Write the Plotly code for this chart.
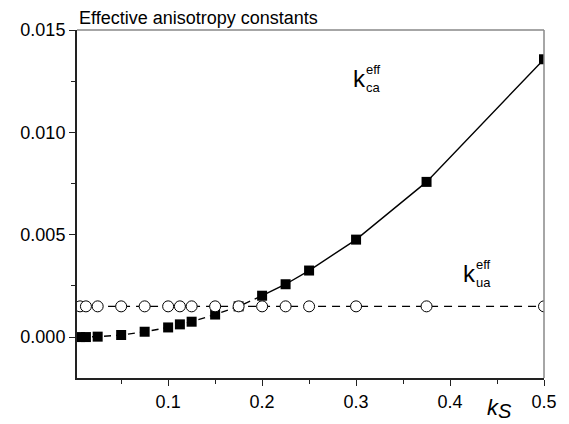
import plotly.graph_objects as go

# k_S values (same for both series)
ks = [0.00625, 0.0125, 0.025, 0.05, 0.075, 0.1, 0.1125, 0.125, 0.15,
      0.175, 0.2, 0.225, 0.25, 0.3, 0.375, 0.5]
k_ca = [0.0, 0.0, 0.00002, 0.0001, 0.00026, 0.00047, 0.00062, 0.00075, 0.0011,
        0.0015, 0.00202, 0.00258, 0.00325, 0.00476, 0.00758, 0.01357]
k_ua = [0.0015] * len(ks)

yticks = [0.0, 0.005, 0.010, 0.015]
xticks = [0.1, 0.2, 0.3, 0.4, 0.5]

FONT = "Liberation Sans, Arial, sans-serif"
split = ks.index(0.2)

fig = go.Figure()
# dashed part of k_ca line
fig.add_trace(go.Scatter(x=ks[:split + 1], y=k_ca[:split + 1], mode="lines",
                         line=dict(color="black", width=1.4, dash="7px,5px"),
                         showlegend=False, hoverinfo="skip"))
# solid part of k_ca line
fig.add_trace(go.Scatter(x=ks[split:], y=k_ca[split:], mode="lines",
                         line=dict(color="black", width=1.4),
                         showlegend=False, hoverinfo="skip"))
fig.add_trace(go.Scatter(x=ks, y=k_ca, mode="markers", name="k_ca",
                         marker=dict(symbol="square", size=10, color="black",
                                     line=dict(width=0)),
                         showlegend=False))
fig.add_trace(go.Scatter(x=ks, y=k_ua, mode="lines+markers", name="k_ua",
                         line=dict(color="black", width=1.4, dash="8px,6px"),
                         marker=dict(symbol="circle", size=11, color="white",
                                     line=dict(color="black", width=1)),
                         showlegend=False))

axis_common = dict(showgrid=False, zeroline=False, ticks="outside",
                   ticklen=6, tickwidth=1.2, tickcolor="#222",
                   showline=True, linecolor="#222", linewidth=2,
                   tickfont=dict(family=FONT, size=18, color="black"))

fig.update_xaxes(range=[0.003, 0.5], tickvals=xticks, ticktext=[f"{v:.1f}" for v in xticks],
                 minor=dict(tickvals=[0.05, 0.15, 0.25, 0.35, 0.45], ticks="outside",
                            ticklen=4, tickcolor="#222"),
                 **axis_common)
fig.update_yaxes(range=[-0.002, 0.015], tickvals=yticks, ticktext=[f"{v:.3f}" for v in yticks],
                 minor=dict(tickvals=[0.0025, 0.0075, 0.0125], ticks="outside",
                            ticklen=4, tickcolor="#222"),
                 **axis_common)

# gray top and right frame lines
fig.add_shape(type="line", xref="paper", yref="paper", x0=0, x1=1, y0=1, y1=1,
              line=dict(color="#888", width=1.5))
fig.add_shape(type="line", xref="paper", yref="paper", x0=1, x1=1, y0=0, y1=1,
              line=dict(color="#888", width=1.5))

ann = []
ann.append(dict(text="Effective anisotropy constants", xref="paper", yref="paper",
                x=0, y=1, xanchor="left", yanchor="bottom", showarrow=False, yshift=0,
                font=dict(family=FONT, size=18, color="black")))
# k_ca^eff label
ann.append(dict(text="k", x=0.304, y=0.01264, showarrow=False,
                font=dict(family=FONT, size=24, color="black")))
ann.append(dict(text="eff", x=0.304, y=0.01264, showarrow=False, xanchor="left",
                xshift=4, yshift=9, font=dict(family=FONT, size=13, color="black")))
ann.append(dict(text="ca", x=0.304, y=0.01264, showarrow=False, xanchor="left",
                xshift=4, yshift=-9, font=dict(family=FONT, size=13, color="black")))
# k_ua^eff label
ann.append(dict(text="k", x=0.421, y=0.00312, showarrow=False,
                font=dict(family=FONT, size=24, color="black")))
ann.append(dict(text="eff", x=0.421, y=0.00312, showarrow=False, xanchor="left",
                xshift=4, yshift=9, font=dict(family=FONT, size=13, color="black")))
ann.append(dict(text="ua", x=0.421, y=0.00312, showarrow=False, xanchor="left",
                xshift=4, yshift=-9, font=dict(family=FONT, size=13, color="black")))
# axis title k_S
ann.append(dict(text="<i>k</i>", xref="paper", yref="paper", x=0.9, y=0,
                xanchor="right", yanchor="top", showarrow=False, xshift=4, yshift=-15,
                font=dict(family=FONT, size=22, color="black")))
ann.append(dict(text="<i>S</i>", xref="paper", yref="paper", x=0.9, y=0,
                xanchor="left", yanchor="top", showarrow=False, xshift=-1, yshift=-20,
                font=dict(family=FONT, size=20, color="black")))
fig.update_layout(annotations=ann)

# page body adds an 8px offset, so the figure is 8px smaller and margins shifted
fig.update_layout(width=561, height=416, plot_bgcolor="white", paper_bgcolor="white",
                  margin=dict(l=67, r=14, t=22, b=39))

fig.write_html("out.html")
